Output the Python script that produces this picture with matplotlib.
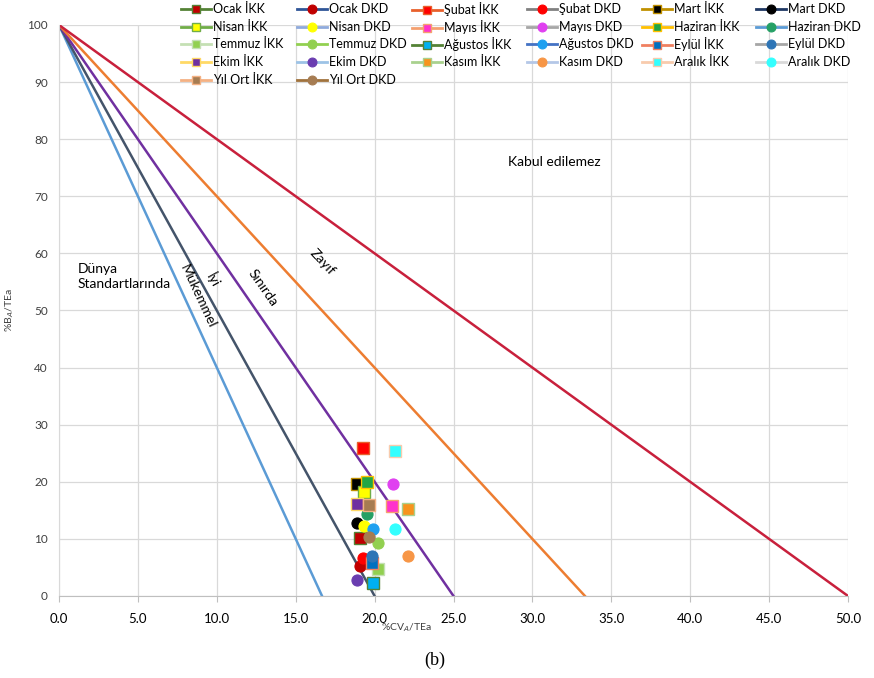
import matplotlib
matplotlib.use("Agg")
import matplotlib.pyplot as plt
import numpy as np

plt.rcParams['font.family'] = ['Lato', 'DejaVu Sans']

# Data
months = ["Ocak", "Şubat", "Mart", "Nisan", "Mayıs", "Haziran", "Temmuz",
          "Ağustos", "Eylül", "Ekim", "Kasım", "Aralık", "Yıl Ort"]
ikk_cv = [19.07, 19.28, 18.86, 19.35, 21.12, 19.54, 20.24, 19.92, 19.81, 18.86, 22.10, 21.29, 19.64]
ikk_b = [10.1, 25.9, 19.7, 18.3, 15.8, 19.9, 4.7, 2.3, 5.7, 16.1, 15.2, 25.4, 15.9]
dkd_cv = [19.07, 19.28, 18.86, 19.35, 21.14, 19.54, 20.24, 19.92, 19.81, 18.86, 22.10, 21.29, 19.66]
dkd_b = [5.25, 6.6, 12.8, 12.3, 19.6, 14.4, 9.3, 11.7, 7.0, 2.8, 7.0, 11.7, 10.4]

# Quality-limit lines: from (0,100) to (x_end,0)
limit_x_end = [16.67, 20.0, 25.0, 33.33, 50.0]
limit_colors = ["#5B9BD5", "#44546A", "#7030A0", "#ED7D31", "#C8203C"]

# Styles per series (face, line/edge)
ikk_face = ["#C00000", "#FF0000", "#000000", "#FFFF00", "#FF33CC", "#21A645", "#92D050",
            "#00B0F0", "#0070C0", "#7030A0", "#F7941D", "#33FFFF", "#A67C52"]
ikk_line = ["#548235", "#E8602C", "#C09000", "#70AD47", "#F4A070", "#FFC000", "#C5E0B4",
            "#548235", "#F08060", "#FFD966", "#A9D18E", "#F8CBAD", "#F4B183"]
dkd_face = ["#C00000", "#FF0000", "#000000", "#FFFF00", "#E040F0", "#25A065", "#92D050",
            "#1FA0F0", "#2E75B6", "#6A3DB0", "#F79646", "#33FFFF", "#A67C52"]
dkd_line = ["#2F5597", "#808080", "#1F3864", "#8FAADC", "#A6A6A6", "#5B9BD5", "#92D050",
            "#4472C4", "#A6A6A6", "#9DC3E6", "#B4C7E7", "#D9D9D9", "#A0723C"]

fig = plt.figure(figsize=(8.74, 6.78), dpi=100)
ax = fig.add_axes([59/874, 1-596/678, (848-59)/874, (596-25)/678])

for xe, c in zip(limit_x_end, limit_colors):
    ax.plot([0, xe], [100, 0], color=c, lw=1.8, zorder=2)

handles = {}
for i, m in enumerate(months):
    h1, = ax.plot([ikk_cv[i]], [ikk_b[i]], marker='s', ms=8, mfc=ikk_face[i], mec=ikk_line[i],
                  mew=1.0, color=ikk_line[i], lw=2, ls='-', zorder=4)
    h2, = ax.plot([dkd_cv[i]], [dkd_b[i]], marker='o', ms=8, mfc=dkd_face[i], mec=dkd_face[i],
                  mew=0.8, color=dkd_line[i], lw=2, ls='-', zorder=4)
    handles[f"{m} İKK"] = h1
    handles[f"{m} DKD"] = h2

ax.set_xlim(0, 50)
ax.set_ylim(0, 100)
ax.set_xticks(np.arange(0, 50.1, 5))
ax.set_xticklabels([f"{v:.1f}" for v in np.arange(0, 50.1, 5)], fontsize=9.5)
ax.set_yticks(np.arange(0, 101, 10))
ax.set_yticklabels([str(v) for v in range(0, 101, 10)], fontsize=8.5, color="#404040")
ax.grid(True, color="#D9D9D9", lw=0.9, zorder=0)
ax.set_axisbelow(True)
for s in ["top", "right"]:
    ax.spines[s].set_visible(False)
ax.spines["left"].set_color("#D9D9D9")
ax.spines["bottom"].set_color("#BFBFBF")
ax.tick_params(axis='y', length=0, pad=8)
ax.tick_params(axis='x', length=4, color="#BFBFBF", pad=8)

ax.set_ylabel("%B$_A$/TEa", fontsize=7.5, color="#404040", labelpad=8)
fig.text(381/874, 1-628/678, "%CV$_A$/TEa", fontsize=7.5, color="#404040", ha='left', va='center')

# Annotations
ax.text(31.4, 76, "Kabul edilemez", fontsize=10, ha='center', va='center')
ax.text(1.2, 56, "Dünya\nStandartlarında", fontsize=10, ha='left', va='center', linespacing=1.3)
ax.text(8.8, 52.5, "Mükemmel", fontsize=10, ha='center', va='center', rotation=-65, rotation_mode='anchor')
ax.text(9.8, 55.3, "İyi", fontsize=10, ha='center', va='center', rotation=-61, rotation_mode='anchor')
ax.text(12.9, 54.0, "Sınırda", fontsize=10, ha='center', va='center', rotation=-55, rotation_mode='anchor')
ax.text(16.7, 58.5, "Zayıf", fontsize=10, ha='center', va='center', rotation=-47, rotation_mode='anchor')

fig.text(435/874, 1-660/678, "(b)", fontsize=13, ha='center', va='center', family='Liberation Serif')

# Legend: 5 rows x 6 fixed-width columns, one small legend per entry for exact alignment
rows = [
    ["Ocak İKK", "Ocak DKD", "Şubat İKK", "Şubat DKD", "Mart İKK", "Mart DKD"],
    ["Nisan İKK", "Nisan DKD", "Mayıs İKK", "Mayıs DKD", "Haziran İKK", "Haziran DKD"],
    ["Temmuz İKK", "Temmuz DKD", "Ağustos İKK", "Ağustos DKD", "Eylül İKK", "Eylül DKD"],
    ["Ekim İKK", "Ekim DKD", "Kasım İKK", "Kasım DKD", "Aralık İKK", "Aralık DKD"],
    ["Yıl Ort İKK", "Yıl Ort DKD"],
]
col_x = [181, 297, 412, 527, 642, 756]
row_y = [9, 27, 44, 62, 80]
for ry, labs in zip(row_y, rows):
    for cx, lab in zip(col_x, labs):
        fig.legend([handles[lab]], [lab], loc='center left',
                   bbox_to_anchor=(cx/874, 1 - ry/678), frameon=False, fontsize=9,
                   handlelength=2.4, handletextpad=0.15, markerscale=0.8,
                   borderaxespad=0.0, borderpad=0.0)

fig.savefig("out.png", dpi=100)
